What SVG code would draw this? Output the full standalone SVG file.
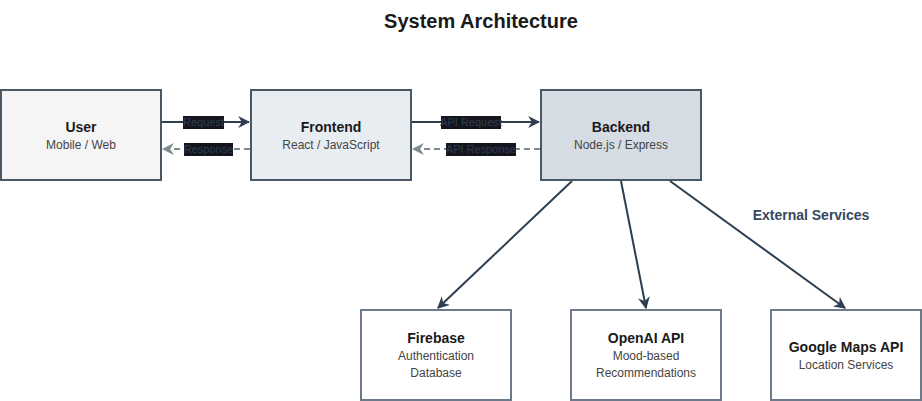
<svg xmlns="http://www.w3.org/2000/svg" width="922" height="401" viewBox="0 0 922 401">
<defs>
<style>
text{font-family:"Liberation Sans",Arial,sans-serif;text-anchor:middle}
.t{font-size:14px;font-weight:bold;fill:#1a1a1a}
.s{font-size:12px;fill:#444}
.box{stroke:#4a5866;stroke-width:2}
.ext{fill:#fff;stroke:#6c7a89;stroke-width:2}
.solid{stroke:#2c3e50;stroke-width:2;fill:none}
.dash{stroke:#7f8c8d;stroke-width:2;stroke-dasharray:6 4;fill:none}
.lbg{fill:#15151f}
.lbl{font-size:11px;fill:#2c3e50}
</style>
<marker id="ah" viewBox="0 0 10 10" refX="9" refY="5" markerWidth="6" markerHeight="6" orient="auto" markerUnits="strokeWidth"><path d="M0,0 L10,5 L0,10 L3,5 z" fill="#2c3e50"/></marker>
<marker id="ag" viewBox="0 0 10 10" refX="9" refY="5" markerWidth="6" markerHeight="6" orient="auto" markerUnits="strokeWidth"><path d="M0,0 L10,5 L0,10 L3,5 z" fill="#7f8c8d"/></marker>
</defs>
<rect width="922" height="401" fill="#fff"/>
<text x="481" y="28" style="font-size:20px;font-weight:bold;fill:#1a1a1a">System Architecture</text>
<text x="811" y="220" style="font-size:14px;font-weight:bold;fill:#34495e">External Services</text>
<g id="connectors">
<line class="solid" x1="162" y1="122" x2="249" y2="122" marker-end="url(#ah)"/>
<line class="dash" x1="250" y1="149" x2="163" y2="149" marker-end="url(#ag)"/>
<line class="solid" x1="412" y1="122" x2="539" y2="122" marker-end="url(#ah)"/>
<line class="dash" x1="540" y1="149" x2="413" y2="149" marker-end="url(#ag)"/>
<line class="solid" x1="572" y1="181" x2="438" y2="308" marker-end="url(#ah)"/>
<line class="solid" x1="621" y1="181" x2="646" y2="308" marker-end="url(#ah)"/>
<line class="solid" x1="670" y1="181" x2="845" y2="308" marker-end="url(#ah)"/>
<rect class="lbg" x="183" y="116" width="41" height="13"/>
<text class="lbl" x="203.5" y="126">Request</text>
<rect class="lbg" x="184" y="143" width="49" height="13"/>
<text class="lbl" x="208.5" y="153">Response</text>
<rect class="lbg" x="441" y="116" width="60" height="13"/>
<text class="lbl" x="471" y="126">API Request</text>
<rect class="lbg" x="446" y="143" width="70" height="13"/>
<text class="lbl" x="481" y="153">API Response</text>
</g>
<g id="user"><rect class="box" x="1" y="90" width="160" height="90" fill="#f5f5f5"/><text class="t" x="81" y="132">User</text><text class="s" x="81" y="149">Mobile / Web</text></g>
<g id="frontend"><rect class="box" x="251" y="90" width="160" height="90" fill="#e8edf2"/><text class="t" x="331" y="132">Frontend</text><text class="s" x="331" y="149">React / JavaScript</text></g>
<g id="backend"><rect class="box" x="541" y="90" width="160" height="90" fill="#d5dce4"/><text class="t" x="621" y="132">Backend</text><text class="s" x="621" y="149">Node.js / Express</text></g>
<g id="firebase"><rect class="ext" x="361" y="310" width="150" height="90"/><text class="t" x="436" y="343">Firebase</text><text class="s" x="436" y="360">Authentication</text><text class="s" x="436" y="377">Database</text></g>
<g id="openai"><rect class="ext" x="571" y="310" width="150" height="90"/><text class="t" x="646" y="343">OpenAI API</text><text class="s" x="646" y="360">Mood-based</text><text class="s" x="646" y="377">Recommendations</text></g>
<g id="googlemaps"><rect class="ext" x="771" y="310" width="150" height="90"/><text class="t" x="846" y="352">Google Maps API</text><text class="s" x="846" y="369">Location Services</text></g>
</svg>
